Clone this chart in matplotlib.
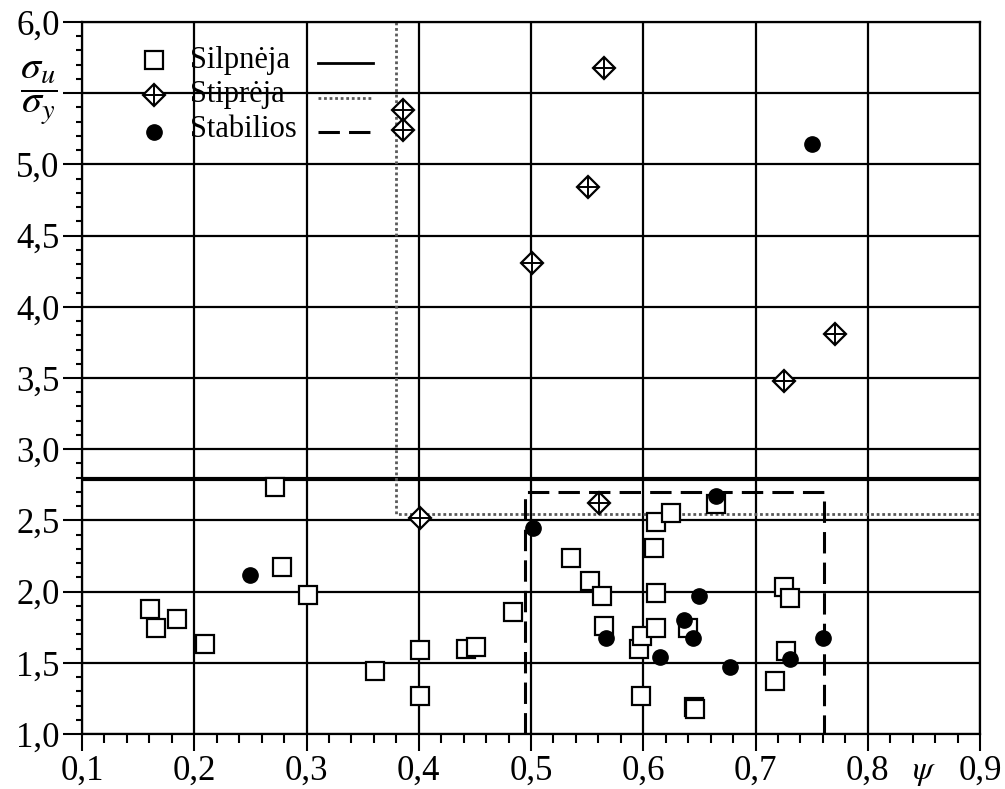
import matplotlib
matplotlib.use("Agg")
import matplotlib.pyplot as plt
from matplotlib.ticker import MultipleLocator
from matplotlib.transforms import blended_transform_factory

# Silpnėja (squares)
weak_x = [0.161, 0.166, 0.185, 0.210, 0.272, 0.278, 0.301, 0.361, 0.401, 0.401,
          0.442, 0.451, 0.484, 0.536, 0.553, 0.563, 0.565, 0.596, 0.599, 0.598,
          0.610, 0.611, 0.611, 0.611, 0.625, 0.640, 0.645, 0.646, 0.665, 0.717,
          0.725, 0.731, 0.727]
weak_y = [1.876, 1.746, 1.805, 1.630, 2.737, 2.175, 1.976, 1.445, 1.590, 1.270,
          1.600, 1.613, 1.857, 2.234, 2.074, 1.971, 1.758, 1.600, 1.688, 1.270,
          2.304, 2.491, 1.988, 1.746, 2.550, 1.746, 1.190, 1.176, 2.615, 1.372,
          2.034, 1.957, 1.585]

# Stiprėja (diamonds with cross)
strong_x = [0.386, 0.386, 0.565, 0.551, 0.501, 0.771, 0.725, 0.401, 0.561]
strong_y = [5.382, 5.242, 5.675, 4.839, 4.310, 3.809, 3.479, 2.515, 2.620]

# Stabilios (filled circles)
stable_x = [0.250, 0.5015, 0.567, 0.615, 0.636, 0.644, 0.650, 0.665, 0.677,
            0.731, 0.760, 0.750]
stable_y = [2.117, 2.444, 1.672, 1.543, 1.800, 1.672, 1.971, 2.673, 1.473,
            1.527, 1.672, 5.141]

# boundary lines
weak_limit_y = 2.79
strong_limit_x = 0.38
strong_limit_y = 2.545
stable_box_x = [0.495, 0.761]
stable_box_y = 2.70

x_ticks = [0.1, 0.2, 0.3, 0.4, 0.5, 0.6, 0.7, 0.8, 0.9]
x_labels = ["0,1", "0,2", "0,3", "0,4", "0,5", "0,6", "0,7", "0,8", "0,9"]
y_ticks = [1.0, 1.5, 2.0, 2.5, 3.0, 3.5, 4.0, 4.5, 5.0, 5.5, 6.0]
y_labels = ["1,0", "1,5", "2,0", "2,5", "3,0", "3,5", "4,0", "4,5", "5,0", "", "6,0"]
legend_labels = ["Silpnėja", "Stiprėja", "Stabilios"]

plt.rcParams["font.family"] = "Liberation Serif"
plt.rcParams["mathtext.fontset"] = "stix"

fig = plt.figure(figsize=(10.05, 7.89), dpi=100)
ax = fig.add_axes([82 / 1005, 1 - 734 / 789, 898 / 1005, 712 / 789])
ax.set_xlim(0.1, 0.9)
ax.set_ylim(1.0, 6.0)

ax.set_xticks(x_ticks)
ax.set_xticklabels(x_labels)
ax.set_yticks(y_ticks)
ax.set_yticklabels(y_labels)
ax.xaxis.set_minor_locator(MultipleLocator(0.02))
ax.yaxis.set_minor_locator(MultipleLocator(0.1))
ax.tick_params(axis="x", which="major", direction="out", length=12, width=1.5,
               labelsize=25, pad=3)
ax.tick_params(axis="x", which="minor", direction="out", length=6.5, width=1.5)
ax.tick_params(axis="y", which="major", direction="out", length=14, width=1.5,
               labelsize=25, pad=2)
ax.tick_params(axis="y", which="minor", direction="out", length=4.5, width=1.5)
for sp in ax.spines.values():
    sp.set_linewidth(1.6)
ax.grid(True, which="major", color="black", linewidth=1.6)

dotted = (0, (1, 1))
dashed = (0, (7, 3))
ax.axhline(weak_limit_y, color="black", linewidth=3, zorder=2)
ax.plot([strong_limit_x, strong_limit_x, 0.9], [6.0, strong_limit_y, strong_limit_y],
        color="0.35", linewidth=2, linestyle=dotted, zorder=2)
ax.plot([stable_box_x[0], stable_box_x[0], stable_box_x[1], stable_box_x[1]],
        [1.0, stable_box_y, stable_box_y, 1.0],
        color="black", linewidth=2.2, linestyle=dashed, zorder=2)

ax.plot(weak_x, weak_y, "s", ms=12.5, mfc="white", mec="black", mew=1.6, zorder=3)
ax.plot(strong_x, strong_y, "D", ms=11, mfc="white", mec="black", mew=1.6, zorder=3)
ax.plot(strong_x, strong_y, "+", ms=15, mec="black", mew=1.4, zorder=3)
ax.plot(stable_x, stable_y, "o", ms=11, mfc="black", mec="black", zorder=4)

# legend drawn by hand: marker, label, line sample
rows = [0.9466, 0.8975, 0.8497]
tr = ax.transAxes
ax.plot(0.080, rows[0], "s", ms=12.5, mfc="white", mec="black", mew=1.6,
        transform=tr, clip_on=False)
ax.plot(0.080, rows[1], "D", ms=11, mfc="white", mec="black", mew=1.6, transform=tr)
ax.plot(0.080, rows[1], "+", ms=15, mec="black", mew=1.4, transform=tr)
ax.plot(0.080, rows[2] - 0.004, "o", ms=11, color="black", transform=tr)
for r, lab in zip(rows, legend_labels):
    ax.text(0.120, r, lab, transform=tr, fontsize=22, va="center", ha="left")
ax.plot([0.263, 0.324], [rows[0] - 0.004] * 2, color="black", linewidth=2, transform=tr)
ax.plot([0.263, 0.324], [rows[1] - 0.004] * 2, color="0.35", linewidth=2,
        linestyle=dotted, transform=tr)
ax.plot([0.263, 0.324], [rows[2] - 0.004] * 2, color="black", linewidth=2.2,
        linestyle=dashed, transform=tr)

# axis titles placed in tick label rows
ax.text(-0.027, 5.5, r"$\dfrac{\sigma_u}{\sigma_y}$", fontsize=29,
        transform=blended_transform_factory(ax.transAxes, ax.transData),
        ha="right", va="center")
ax.text(0.85, -0.033, r"$\psi$", fontsize=24,
        transform=blended_transform_factory(ax.transData, ax.transAxes),
        ha="center", va="top")

fig.savefig("out.png", dpi=100)
